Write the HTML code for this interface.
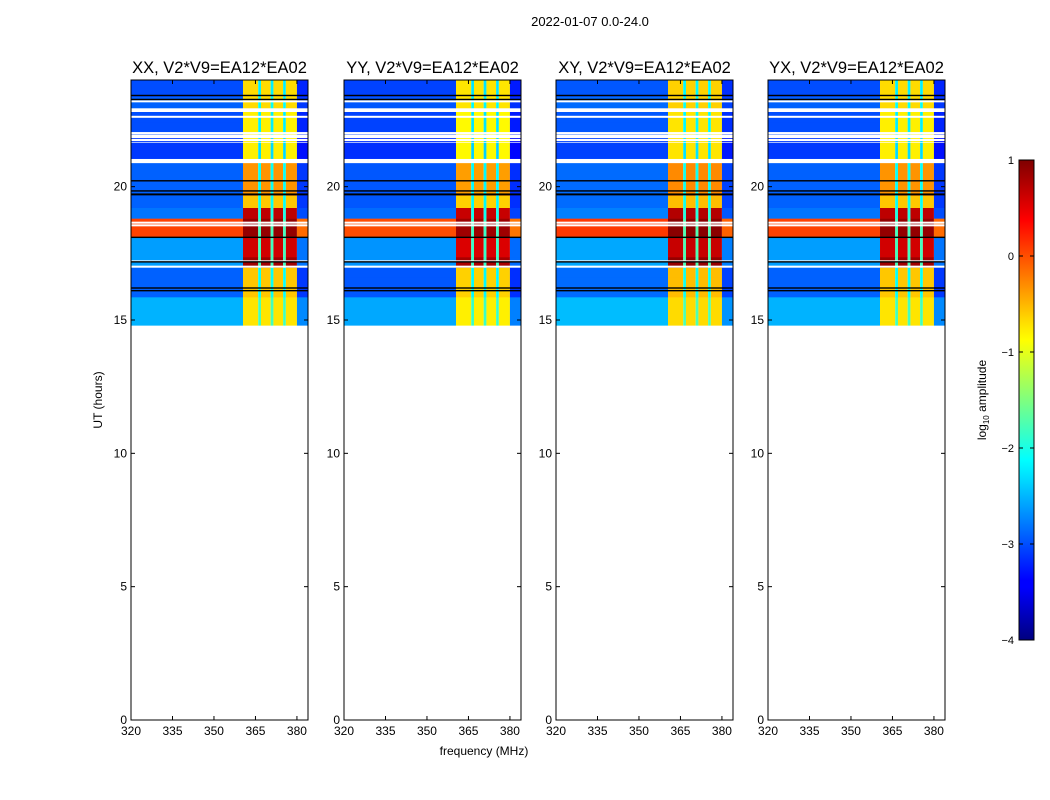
<!DOCTYPE html>
<html><head><meta charset="utf-8"><style>
body{margin:0;background:#fff;}
svg{display:block;font-family:"Liberation Sans","DejaVu Sans",sans-serif;}
</style></head><body>
<svg id="fig" width="1050" height="800" xmlns="http://www.w3.org/2000/svg">
<text x="590" y="26" font-size="13" text-anchor="middle">2022-01-07 0.0-24.0</text>
<text x="484" y="755" font-size="12" text-anchor="middle">frequency (MHz)</text>
<text x="102" y="400" font-size="12" text-anchor="middle" transform="rotate(-90 102 400)">UT (hours)</text>
<defs><linearGradient id="jet" x1="0" y1="1" x2="0" y2="0">
<stop offset="0" stop-color="#00007f"/><stop offset="0.11" stop-color="#0000ff"/><stop offset="0.125" stop-color="#0000ff"/>
<stop offset="0.34" stop-color="#00e0ff"/><stop offset="0.375" stop-color="#00ffff"/><stop offset="0.5" stop-color="#7fff7f"/>
<stop offset="0.625" stop-color="#ffff00"/><stop offset="0.66" stop-color="#ffe000"/><stop offset="0.875" stop-color="#ff0000"/><stop offset="1" stop-color="#7f0000"/>
</linearGradient></defs>
<g id="panels"></g>
<g id="cbar">
<rect x="1019" y="160" width="15" height="480" fill="url(#jet)" stroke="#000" stroke-width="1"/>
<text x="986" y="400" font-size="12" text-anchor="middle" transform="rotate(-90 986 400)">log<tspan font-size="8" dy="3">10</tspan><tspan dy="-3"> amplitude</tspan></text>
</g>
</svg>
<script>
// ---- data ----
const panelTitles = ["XX, V2*V9=EA12*EA02","YY, V2*V9=EA12*EA02","XY, V2*V9=EA12*EA02","YX, V2*V9=EA12*EA02"];
const panelOffsets = [0, -0.05, 0.05, 0];
const xTicks = [320,335,350,365,380];
const yTicks = [0,5,10,15,20];
const cbTicks = [1,0,-1,-2,-3,-4];
const freqEdges = [320,360.5,366,367,370.5,371.5,375,376,380,384];
const colKind = ["base","rfi","gap","rfi","gap","rfi","gap","rfi","base"];
// time bands: [startHour, endHour]
const rowStart = [23.36,22.95,22.80,22.39,21.97,21.69,21.05,20.93,19.65,19.20,18.80,18.10,17.35,16.96,16.58,15.85,14.80];
const rowEnd   = [24.00,23.36,22.95,22.80,22.39,21.82,21.65,21.05,20.93,19.65,19.20,18.80,18.10,17.35,16.96,16.58,15.85];
const rowBase  = [-3.0,-2.9,null,-3.0,-3.0,-3.1,-3.1,null,-2.9,-2.9,-2.8,0.05,-2.6,-2.6,-2.9,-2.9,-2.5];
const rowRfi   = [-0.7,-0.7,null,-0.8,-0.8,-0.8,-0.8,null,-0.35,-0.6,0.7,0.9,0.6,0.85,-0.6,-0.6,-0.75];
const whiteLines = [23.2,22.62,22.01,21.75,20.92,18.65,18.55,17.2,17.0];
const blackLines = [23.42,23.27,20.22,19.84,19.72,19.70,18.1,17.18,16.2,16.1];
// ---- layout ----
const panelX = [131,344,556,768], pw = 177, yTop = 80, yBot = 720;
const fmin = 320, fmax = 384, hmin = 0, hmax = 24;
function jet(v){
  let t=(v+4)/5; t=Math.max(0,Math.min(1,t));
  const c=x=>Math.round(255*Math.max(0,Math.min(1,1.5-Math.abs(4*t-x))));
  return `rgb(${c(3)},${c(2)},${c(1)})`;
}
const NS="http://www.w3.org/2000/svg";
const G=document.getElementById('panels');
function mk(tag,attrs,parent){const e=document.createElementNS(NS,tag);for(const k in attrs)e.setAttribute(k,attrs[k]);parent.appendChild(e);return e;}
panelTitles.forEach((title,p)=>{
  const x0=panelX[p];
  const sx=f=>x0+(f-fmin)/(fmax-fmin)*pw;
  const sy=h=>yBot-(h-hmin)/(hmax-hmin)*(yBot-yTop);
  const g=mk('g',{},G);
  
  
  const hm=mk('g',{},g);
  
  
  rowStart.forEach((hs,i)=>{
    if(rowBase[i]===null) return;
    for(let j=0;j<colKind.length;j++){
      let v=colKind[j]==="base"?rowBase[i]:colKind[j]==="rfi"?rowRfi[i]:Math.min(rowBase[i]+0.8,-1.8);
      if(colKind[j]==="base" && j>0) v=rowBase[i]-0.2;
      v+=panelOffsets[p];
      const r=mk('rect',{x:sx(freqEdges[j]),y:sy(rowEnd[i]),width:sx(freqEdges[j+1])-sx(freqEdges[j]),height:sy(hs)-sy(rowEnd[i])+0.3,fill:jet(v)},hm);
      
      
    }
  });
  whiteLines.forEach(h=>{const l=mk('rect',{x:x0,y:sy(h)-1,width:pw,height:2,fill:'#fff'},hm);
    
    });
  blackLines.forEach(h=>{const l=mk('rect',{x:x0,y:sy(h)-0.7,width:pw,height:1.4,fill:'#000'},hm);
    
    });
  const fr=mk('rect',{x:x0,y:yTop,width:pw,height:yBot-yTop,fill:'none',stroke:'#000','stroke-width':1},g);
  
  
  const t=mk('text',{x:x0+pw/2,y:yTop-7,'font-size':16.5,'text-anchor':'middle'},g);t.textContent=title;
  
  
  xTicks.forEach(f=>{
    mk('line',{x1:sx(f),x2:sx(f),y1:yBot,y2:yBot-4,stroke:'#000'},g);
    mk('line',{x1:sx(f),x2:sx(f),y1:yTop,y2:yTop+4,stroke:'#000'},g);
    const l=mk('text',{x:sx(f),y:yBot+15,'font-size':12,'text-anchor':'middle'},g);l.textContent=f;
    
    
  });
  yTicks.forEach(h=>{
    mk('line',{x1:x0,x2:x0+4,y1:sy(h),y2:sy(h),stroke:'#000'},g);
    mk('line',{x1:x0+pw,x2:x0+pw-4,y1:sy(h),y2:sy(h),stroke:'#000'},g);
    const l=mk('text',{x:x0-4,y:sy(h)+4,'font-size':12,'text-anchor':'end'},g);l.textContent=h;
    
    
  });
});
const CB=document.getElementById('cbar');
cbTicks.forEach(v=>{
  const y=160+(1-v)/5*480;
  mk('line',{x1:1019,x2:1023,y1:y,y2:y,stroke:'#000'},CB);
  mk('line',{x1:1034,x2:1030,y1:y,y2:y,stroke:'#000'},CB);
  const l=mk('text',{x:1014,y:y+4,'font-size':11,'text-anchor':'end'},CB);l.textContent=v<0?'\u2212'+(-v):v;
  
  
});
</script>
</body></html>
